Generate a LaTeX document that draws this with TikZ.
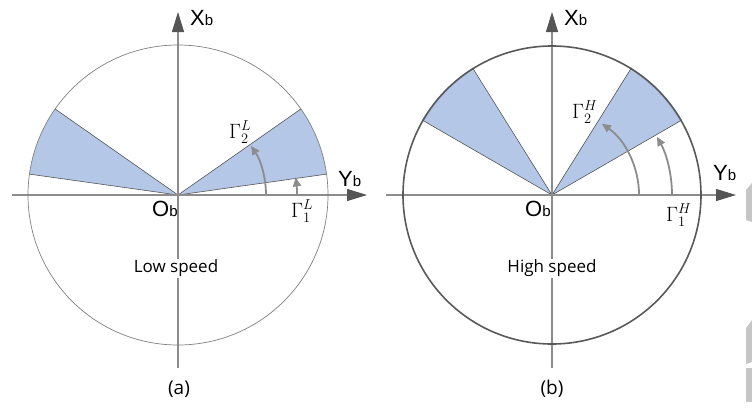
\documentclass[tikz,border=0pt]{standalone}
\usepackage{fontspec}
\setmainfont{Open Sans}
\newfontfamily\axfont{Liberation Sans}
\usetikzlibrary{arrows.meta,calc}
\definecolor{sector}{RGB}{180,199,231}
\definecolor{axisgray}{RGB}{140,140,140}
\definecolor{tipgray}{RGB}{85,85,85}
\tikzset{
  axisline/.style={draw=axisgray, line width=1.1pt, -{Triangle[length=20pt,width=12pt,color=tipgray]}},
  axisplain/.style={draw=axisgray, line width=1.1pt},
  arcarrow/.style={draw=axisgray, line width=1.8pt, -{Triangle[length=9pt,width=8pt]}},
  axlabel/.style={anchor=base west, inner sep=0pt, font=\axfont},
  gam/.style={anchor=base west, inner sep=0pt, font=\fontsize{20}{20}\selectfont},
  caption/.style={font=\fontsize{17}{17}\selectfont, fill=white, inner sep=1pt},
  sublabel/.style={font=\fontsize{19}{19}\selectfont, inner sep=0pt}
}
\newcommand{\XYlab}[2]{{\fontsize{22}{22}\selectfont #1}{\fontsize{15}{15}\selectfont #2}}
\begin{document}
\begin{tikzpicture}[x=1pt,y=1pt]
\useasboundingbox (0,0) rectangle (752,-407);
% ---------- (a) ----------
\coordinate (OL) at (178,-195);
\coordinate (LxS) at (12,-195);
\coordinate (LxE) at (367,-195);
\coordinate (LyS) at (178,-368);
\coordinate (LyE) at (178,-12);
\draw[axisplain] (OL) -- (LyS);
\fill[sector] (OL) -- ++(8:150) arc[start angle=8,end angle=35,radius=150] -- cycle;
\fill[sector] (OL) -- ++(145:150) arc[start angle=145,end angle=172,radius=150] -- cycle;
\draw[tipgray, line width=0.6pt] (OL) -- ++(8:150) (OL) -- ++(35:150) (OL) -- ++(145:150) (OL) -- ++(172:150);
\draw[axisline] (LxS) -- (LxE);
\draw[axisline] (OL) -- (LyE);
\draw[draw=gray, line width=0.7pt] (OL) circle[radius=150];
\draw[arcarrow] ($(OL)+(119,0)$) arc[start angle=0,end angle=8.5,radius=119];
\draw[arcarrow] ($(OL)+(88,0)$) arc[start angle=0,end angle=34,radius=88];
\node[axlabel] (XL) at (190,-25) {\XYlab{X}{b}};
\node[axlabel] (YL) at (338,-186) {\XYlab{Y}{b}};
\node[axlabel] (OLl) at (152,-216) {\XYlab{O}{b}};
\node[gam] (G2L) at (229,-138) {$\Gamma_2^L$};
\node[gam] (G1L) at (291,-217) {$\Gamma_1^L$};
\node[caption] (low) at (176,-268) {Low speed};
\node[sublabel] (a) at (179,-389) {(a)};
% ---------- (b) ----------
\coordinate (OR) at (552,-195);
\coordinate (RxS) at (386,-195);
\coordinate (RxE) at (736,-195);
\coordinate (RyS) at (552,-368);
\coordinate (RyE) at (552,-12);
\draw[axisplain] (OR) -- (RyS);
\fill[sector] (OR) -- ++(30:150) arc[start angle=30,end angle=58,radius=150] -- cycle;
\fill[sector] (OR) -- ++(122:150) arc[start angle=122,end angle=150,radius=150] -- cycle;
\draw[tipgray, line width=0.6pt] (OR) -- ++(30:150) (OR) -- ++(58:150) (OR) -- ++(122:150) (OR) -- ++(150:150);
\draw[axisline] (RxS) -- (RxE);
\draw[axisline] (OR) -- (RyE);
\draw[draw=black!65, line width=1.6pt] (OR) circle[radius=149];
\draw[arcarrow] ($(OR)+(120,0)$) arc[start angle=0,end angle=29,radius=120];
\draw[arcarrow] ($(OR)+(87,0)$) arc[start angle=0,end angle=55,radius=87];
\node[axlabel] (XR) at (564,-25) {\XYlab{X}{b}};
\node[axlabel] (YR) at (713,-180) {\XYlab{Y}{b}};
\node[axlabel] (ORl) at (525,-216) {\XYlab{O}{b}};
\node[gam] (G2H) at (572,-118) {$\Gamma_2^H$};
\node[gam] (G1H) at (666,-221) {$\Gamma_1^H$};
\node[caption] (high) at (552,-268) {High speed};
\node[sublabel] (b) at (552,-389) {(b)};
% ---------- edge artefacts ----------
\fill[gray!45] (746,-190) -- (752,-183) -- (752,-222) -- (746,-220) -- cycle;
\fill[gray!45] (746,-328) -- (752,-320) -- (752,-362) -- (746,-364) -- cycle;
\fill[gray!45] (746,-368) rectangle (752,-402);
\end{tikzpicture}
\end{document}
